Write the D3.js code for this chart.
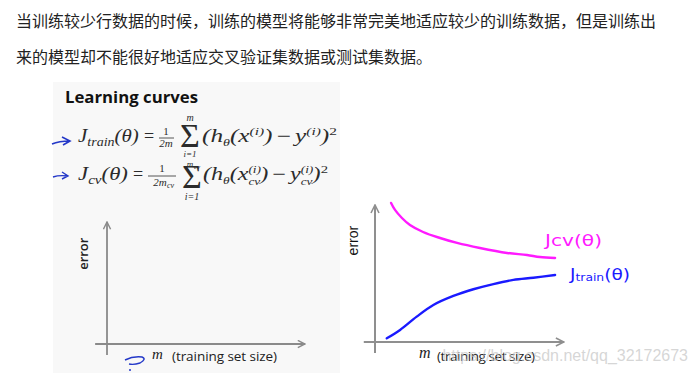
<!DOCTYPE html>
<html>
<head>
<meta charset="utf-8">
<script src="https://cdn.jsdelivr.net/npm/d3@7"></script>
<style>
  body { margin: 0; background: #fff; }
  svg { display: block; }
</style>
</head>
<body>
<div id="chart"></div>
<script>
// Data (arbitrary units 0..10)
const paragraph = [
  "当训练较少行数据的时候，训练的模型将能够非常完美地适应较少的训练数据，但是训练出",
  "来的模型却不能很好地适应交叉验证集数据或测试集数据。"
]
const cvM = [0.86, 1.07, 1.44, 1.87, 2.57, 3.48, 4.39, 5.61, 7.06, 8.13, 8.82, 9.63]
const cvError = [10.15, 9.64, 9.05, 8.54, 8.03, 7.59, 7.23, 6.86, 6.50, 6.35, 6.20, 6.13]
const trainM = [0.63, 1.34, 2.23, 3.12, 4.19, 5.26, 6.33, 7.40, 8.47, 9.63]
const trainError = [0.27, 0.88, 1.85, 2.70, 3.36, 3.85, 4.23, 4.53, 4.69, 4.89]
const axisLabels = { y: "error", x: "(training set size)", m: "m" }
const watermark = "https://blog.csdn.net/qq_32172673"

const width = 700
const height = 373
const ink = "#2b2b2b"

const svg = d3.select("#chart")
  .append("svg")
  .attr("width", width)
  .attr("height", height)

svg.append("rect").attr("width", width).attr("height", height).attr("fill", "#fff")

// Chinese paragraph
svg.selectAll("text.para")
  .data(paragraph)
  .join("text")
  .classed("para", true)
  .attr("x", 16)
  .attr("y", (d, i) => 27 + i * 36)
  .attr("font-family", "'Noto Sans CJK SC', sans-serif")
  .attr("font-size", 16)
  .attr("fill", "#222")
  .text(d => d)

// arrow marker for axes
const defs = svg.append("defs")
function arrowMarker(id, color) {
  defs.append("marker")
    .attr("id", id)
    .attr("viewBox", "0 0 10 10")
    .attr("refX", 9)
    .attr("refY", 5)
    .attr("markerWidth", 5)
    .attr("markerHeight", 5)
    .attr("orient", "auto")
    .append("path")
    .attr("d", "M1,1 L9,5 L1,9")
    .attr("fill", "none")
    .attr("stroke", color)
    .attr("stroke-width", 1.6)
}
arrowMarker("arrL", "#8a8a8a")
arrowMarker("arrR", "#8f8f8f")

// ---------- left: slide screenshot ----------
const slide = svg.append("g")
slide.append("rect")
  .attr("x", 53).attr("y", 82)
  .attr("width", 287).attr("height", height - 82)
  .attr("fill", "#f8f8f8")

slide.append("text")
  .attr("x", 65).attr("y", 103)
  .attr("font-family", "'Open Sans', sans-serif")
  .attr("font-weight", "bold")
  .attr("font-size", 16.5)
  .attr("fill", "#111")
  .attr("textLength", 133)
  .attr("lengthAdjust", "spacingAndGlyphs")
  .text("Learning curves")

// math helper: lays parts one after the other, then squeezes to target width
function mathRow(x, y, targetWidth, parts) {
  const g = slide.append("g")
    .attr("font-family", "'Liberation Serif', 'DejaVu Serif', serif")
    .attr("fill", ink)
  let cx = 0
  parts.forEach(p => {
    const t = g.append("text")
      .attr("x", cx + (p.dx || 0))
      .attr("y", p.dy || 0)
      .attr("font-size", p.size || 18)
      .attr("font-style", p.up ? "normal" : "italic")
      .text(p.t)
    const w = t.node().getComputedTextLength()
    if (!p.hold) cx += w + (p.gap || 0)
  })
  g.attr("transform", `translate(${x},${y}) scale(${targetWidth / cx},1)`)
}

function stacked(cxCenter, y, t, size, italic) {
  slide.append("text")
    .attr("x", cxCenter).attr("y", y)
    .attr("text-anchor", "middle")
    .attr("font-family", "'Liberation Serif', serif")
    .attr("font-style", italic ? "italic" : "normal")
    .attr("font-size", size)
    .attr("fill", ink)
    .text(t)
}

// formula 1
mathRow(78, 142, 62, [
  { t: "J" }, { t: "train", size: 12, dy: 4 }, { t: "(θ)", gap: 1 }
])
stacked(149, 142, "=", 18, false)
stacked(166, 135, "1", 11, false)
slide.append("line").attr("x1", 159).attr("x2", 174).attr("y1", 138).attr("y2", 138)
  .attr("stroke", ink).attr("stroke-width", 0.8)
stacked(166, 147, "2m", 11, true)
stacked(190, 147, "Σ", 34, false)
stacked(190, 121, "m", 10, true)
stacked(190, 157, "i=1", 9, true)
mathRow(202, 142, 135, [
  { t: "(h" }, { t: "θ", size: 10, dy: 4 }, { t: "(x" },
  { t: "(i)", size: 11, dy: -7 }, { t: ")", gap: 3 }, { t: "−", up: true, gap: 3 },
  { t: "y" }, { t: "(i)", size: 11, dy: -7 }, { t: ")" }, { t: "2", size: 11, dy: -7, up: true }
])

// formula 2
mathRow(78, 180, 50, [
  { t: "J" }, { t: "cv", size: 12, dy: 4 }, { t: "(θ)" }
])
stacked(138, 180, "=", 18, false)
stacked(162, 172, "1", 11, false)
slide.append("line").attr("x1", 148).attr("x2", 176).attr("y1", 176).attr("y2", 176)
  .attr("stroke", ink).attr("stroke-width", 0.8)
stacked(160, 186, "2m", 11, true)
slide.append("text").attr("x", 167).attr("y", 188).attr("font-family", "'Liberation Serif', serif")
  .attr("font-style", "italic").attr("font-size", 8).attr("fill", ink).text("cv")
stacked(192, 188, "Σ", 34, false)
stacked(190, 167, "m", 9, true)
slide.append("text").attr("x", 194).attr("y", 169).attr("font-family", "'Liberation Serif', serif")
  .attr("font-style", "italic").attr("font-size", 7).attr("fill", ink).text("cv")
stacked(192, 200, "i=1", 10, true)
mathRow(203, 180, 125, [
  { t: "(h" }, { t: "θ", size: 10, dy: 4 }, { t: "(x" },
  { t: "(i)", size: 10, dy: -7, hold: true }, { t: "cv", size: 10, dy: 5 },
  { t: ")", gap: 3 }, { t: "−", up: true, gap: 3 },
  { t: "y" }, { t: "(i)", size: 10, dy: -7, hold: true }, { t: "cv", size: 10, dy: 5 },
  { t: ")" }, { t: "2", size: 11, dy: -7, up: true }
])

// blue hand-drawn arrows on the slide
const pen = "#2438c8"
slide.append("path")
  .attr("d", "M52,144 Q59,141 70,141 M62,137 L70,141 L63,145")
  .attr("fill", "none").attr("stroke", pen).attr("stroke-width", 1.6)
slide.append("path")
  .attr("d", "M53,177 Q59,175 68,176 M62,172 L68,176 L62,179")
  .attr("fill", "none").attr("stroke", pen).attr("stroke-width", 1.4)
slide.append("path")
  .attr("d", "M125,360 Q133,356 142,357 Q147,359 140,363 Q134,365 129,364")
  .attr("fill", "none").attr("stroke", pen).attr("stroke-width", 1.4)
slide.append("circle").attr("cx", 130).attr("cy", 370).attr("r", 1).attr("fill", pen)

// empty left axes
const xLeft = d3.scaleLinear().domain([0, 10]).range([107, 305])
const yLeft = d3.scaleLinear().domain([0, 10]).range([344, 222])

slide.append("line")
  .attr("x1", xLeft(-0.6)).attr("x2", xLeft(10))
  .attr("y1", yLeft(0)).attr("y2", yLeft(0))
  .attr("stroke", "#8a8a8a").attr("stroke-width", 1.8)
  .attr("marker-end", "url(#arrL)")
slide.append("line")
  .attr("x1", xLeft(0)).attr("x2", xLeft(0))
  .attr("y1", yLeft(-0.9)).attr("y2", yLeft(10))
  .attr("stroke", "#8a8a8a").attr("stroke-width", 1.8)
  .attr("marker-end", "url(#arrL)")

slide.append("text")
  .attr("transform", `translate(88,${yLeft(7.4)}) rotate(-90)`)
  .attr("text-anchor", "middle")
  .attr("font-family", "'Open Sans', sans-serif")
  .attr("font-weight", 600)
  .attr("font-size", 13)
  .attr("fill", "#222")
  .text(axisLabels.y)
slide.append("text")
  .attr("x", 152).attr("y", 359)
  .attr("font-family", "'Liberation Serif', serif")
  .attr("font-style", "italic")
  .attr("font-size", 15)
  .attr("fill", "#222")
  .text(axisLabels.m)
slide.append("text")
  .attr("x", 172).attr("y", 361)
  .attr("font-family", "'Open Sans', sans-serif")
  .attr("font-size", 13.5)
  .attr("fill", "#222")
  .attr("textLength", 105)
  .text(axisLabels.x)

// ---------- right: learning curves ----------
const plot = svg.append("g")
const xScale = d3.scaleLinear().domain([0, 10]).range([375, 562])
const yScale = d3.scaleLinear().domain([0, 10]).range([342, 205])

plot.append("line")
  .attr("x1", xScale(-0.6)).attr("x2", xScale(10.1))
  .attr("y1", yScale(0)).attr("y2", yScale(0))
  .attr("stroke", "#8f8f8f").attr("stroke-width", 2)
  .attr("marker-end", "url(#arrR)")
plot.append("line")
  .attr("x1", xScale(0)).attr("x2", xScale(0))
  .attr("y1", yScale(-0.8)).attr("y2", yScale(10))
  .attr("stroke", "#8f8f8f").attr("stroke-width", 2)
  .attr("marker-end", "url(#arrR)")

const line = d3.line()
  .x(d => xScale(d[0]))
  .y(d => yScale(d[1]))
  .curve(d3.curveCatmullRom)

plot.append("path")
  .datum(d3.zip(cvM, cvError))
  .attr("d", line)
  .attr("fill", "none")
  .attr("stroke", "#ff1aff")
  .attr("stroke-width", 2.4)
  .attr("stroke-linecap", "round")

plot.append("path")
  .datum(d3.zip(trainM, trainError))
  .attr("d", line)
  .attr("fill", "none")
  .attr("stroke", "#1a1aff")
  .attr("stroke-width", 2.4)
  .attr("stroke-linecap", "round")

// hand-written curve names
plot.append("text")
  .attr("x", 545).attr("y", 246)
  .attr("font-family", "'DejaVu Sans', sans-serif")
  .attr("font-size", 15)
  .attr("fill", "#ff1aff")
  .attr("textLength", 57)
  .attr("lengthAdjust", "spacingAndGlyphs")
  .text("Jcv(θ)")

const jt = plot.append("text")
  .attr("x", 570).attr("y", 280)
  .attr("font-family", "'DejaVu Sans', sans-serif")
  .attr("font-size", 15)
  .attr("fill", "#1a1aff")
  .attr("textLength", 60)
  .attr("lengthAdjust", "spacingAndGlyphs")
jt.append("tspan").text("J")
jt.append("tspan").attr("font-size", 10).attr("dy", 1).text("train")
jt.append("tspan").attr("dy", -1).text("(θ)")

plot.append("text")
  .attr("transform", `translate(358,${yScale(7.4)}) rotate(-90)`)
  .attr("text-anchor", "middle")
  .attr("font-family", "'Liberation Sans', Arial, sans-serif")
  .attr("font-size", 14)
  .attr("fill", "#111")
  .text(axisLabels.y)
plot.append("text")
  .attr("x", 419).attr("y", 358)
  .attr("font-family", "'Liberation Serif', serif")
  .attr("font-style", "italic")
  .attr("font-size", 16)
  .attr("fill", "#222")
  .text(axisLabels.m)
plot.append("text")
  .attr("x", 437).attr("y", 361)
  .attr("font-family", "'Open Sans', sans-serif")
  .attr("font-size", 13.5)
  .attr("fill", "#222")
  .attr("textLength", 98)
  .text(axisLabels.x)

// watermark
svg.append("text")
  .attr("x", 688).attr("y", 361)
  .attr("text-anchor", "end")
  .attr("font-family", "'Liberation Sans', Arial, sans-serif")
  .attr("font-size", 16)
  .attr("fill", "#c4c4c4")
  .attr("fill-opacity", 0.7)
  .text(watermark)
</script>
</body>
</html>
